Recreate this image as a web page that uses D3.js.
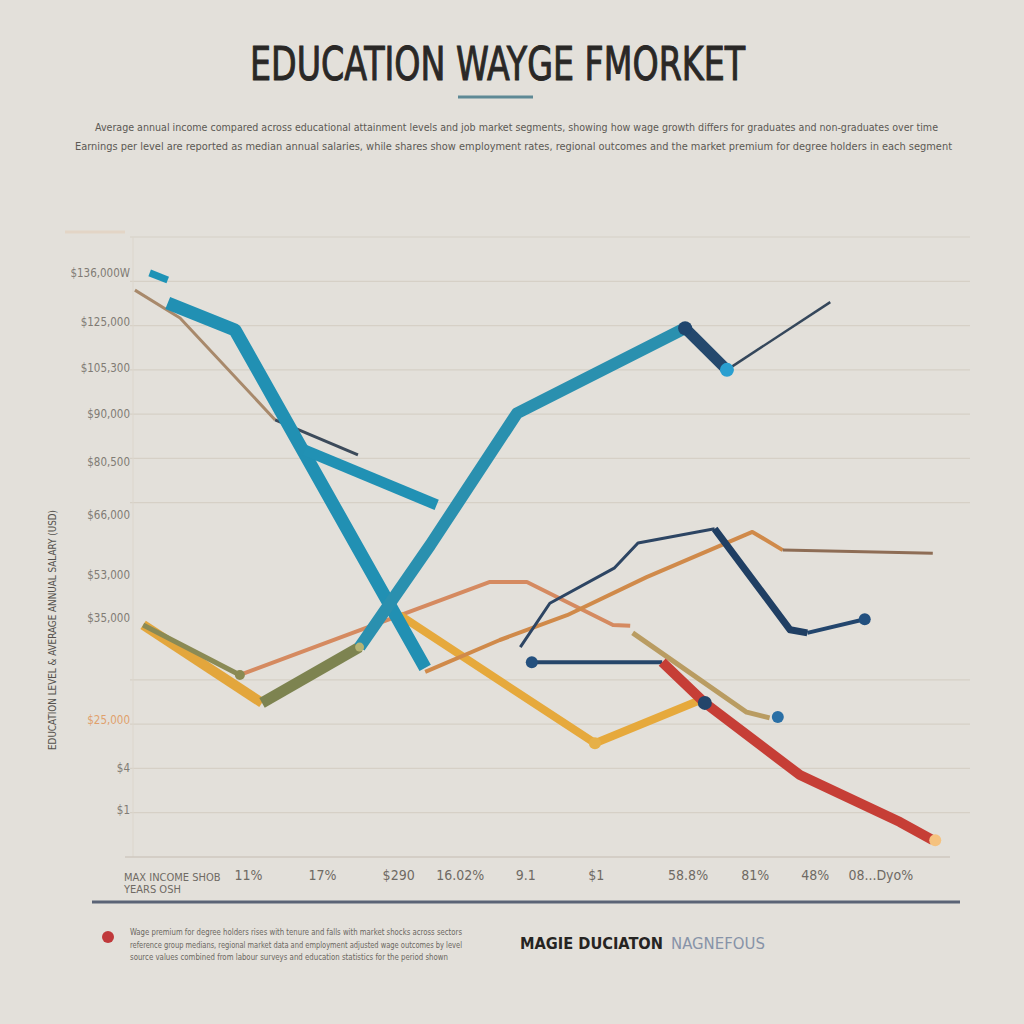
<!DOCTYPE html>
<html><head><meta charset="utf-8">
<script src="https://cdn.jsdelivr.net/npm/d3@7/dist/d3.min.js"></script>
<style>
html,body{margin:0;padding:0;background:#e3e0da;}
svg{display:block;}
.cond{font-family:"Liberation Sans Narrow","DejaVu Sans Condensed","Roboto Condensed","Liberation Sans",sans-serif;font-stretch:condensed;}
</style></head>
<body><svg id="c" width="1024" height="1024"></svg>
<script>
// ---------- DATA ----------
const title = "EDUCATION WAYGE FMORKET";
const subtitleLines = [
  "Average annual income compared across educational attainment levels and job market segments, showing how wage growth differs for graduates and non-graduates over time",
  "Earnings per level are reported as median annual salaries, while shares show employment rates, regional outcomes and the market premium for degree holders in each segment"
];
const yTickValues = [13.2, 12.08, 11.04, 10.0, 8.92, 7.72, 6.37, 5.4, 3.09, 2.01, 1.06];
const yTickLabels = ["$136,000W", "$125,000", "$105,300", "$90,000", "$80,500", "$66,000", "$53,000", "$35,000", "$25,000", "$4", "$1"];
const gridValues = [14, 13, 12, 11, 10, 9, 8, 4, 3, 2, 1];
const xTickValues = [14.4, 23.4, 32.7, 40.2, 48.2, 56.8, 68.0, 76.2, 83.5, 91.5];
const xTickLabels = ["11%", "17%", "$290", "16.02%", "9.1", "$1", "58.8%", "81%", "48%", "08...Dyo%"];
const xFirstLabel = ["MAX INCOME SHOB", "YEARS OSH"];
const yAxisTitle = "EDUCATION LEVEL & AVERAGE ANNUAL SALARY (USD)";
const legendText = [
  "Wage premium for degree holders rises with tenure and falls with market shocks across sectors",
  "reference group medians, regional market data and employment adjusted wage outcomes by level",
  "source values combined from labour surveys and education statistics for the period shown"
];
const legendTitle = "MAGIE DUCIATON";
const legendSub = "NAGNEFOUS";

// series: [x, y] in data units (x: 0-100 index, y: 0-14 salary scale)
const tealFragment = [[2.4, 13.19], [4.6, 13.03]];
const tealDown = [[4.6, 12.51], [12.8, 11.90], [36.0, 4.27]];
const tealBranch = [[21.3, 9.19], [37.4, 7.95]];
const brownThin = [[0.6, 12.80], [6.1, 12.17], [17.7, 9.87]];
const slateThin = [[17.7, 9.87], [27.8, 9.08]];
const risingOlive = [[16.1, 3.48], [28.0, 4.74]];
const risingTeal = [[28.0, 4.74], [36.6, 7.04], [47.2, 10.02], [67.7, 11.94]];
const risingNavy = [[67.7, 11.94], [72.8, 11.00]];
const navyThinTop = [[72.8, 11.00], [85.4, 12.53]];
const yellowLeft = [[1.6, 5.24], [16.1, 3.48]];
const oliveThin = [[1.6, 5.24], [13.4, 4.11]];
const orangeLine = [[13.4, 4.11], [27.4, 5.08], [43.9, 6.21], [48.4, 6.21], [58.9, 5.24], [61.0, 5.22]];
const yellowDown = [[32.9, 5.46], [56.7, 2.57], [69.5, 3.54]];
const orangeRise = [[36.0, 4.18], [45.1, 4.90], [53.3, 5.46], [63.0, 6.32], [75.9, 7.34], [79.6, 6.93]];
const brownTail = [[79.6, 6.93], [97.9, 6.86]];
const navyMid = [[47.6, 4.74], [51.2, 5.73], [59.1, 6.53], [61.95, 7.09], [71.3, 7.41]];
const navyDrop = [[71.3, 7.41], [80.5, 5.13], [82.6, 5.06]];
const navyEnd = [[82.6, 5.06], [89.6, 5.37]];
const navyFlat = [[49.0, 4.40], [64.9, 4.40]];
const redLine = [[64.9, 4.40], [70.1, 3.48], [81.7, 1.85], [93.9, 0.79], [97.9, 0.38]];
const tanLine = [[61.3, 5.06], [75.2, 3.27], [78.0, 3.14]];
const markers = [
  {p: [67.7, 11.94], c: "#1f456e", r: 7},
  {p: [72.8, 11.00], c: "#2a9fd0", r: 7},
  {p: [56.7, 2.57], c: "#e6b048", r: 6},
  {p: [49.0, 4.40], c: "#24507e", r: 6},
  {p: [89.6, 5.37], c: "#22507f", r: 6},
  {p: [70.1, 3.48], c: "#23456a", r: 7},
  {p: [79.0, 3.16], c: "#2a6fa5", r: 6},
  {p: [98.2, 0.38], c: "#f5c27f", r: 6},
  {p: [13.4, 4.11], c: "#8a8a52", r: 5},
  {p: [28.0, 4.74], c: "#b5b374", r: 4.5}
];

// ---------- DRAW ----------
const svg = d3.select("#c");
const x = d3.scaleLinear().domain([0, 100]).range([130, 950]);
const y = d3.scaleLinear().domain([0, 14]).range([857, 237]);
const line = d3.line().x(d => x(d[0])).y(d => y(d[1]));

// title
svg.append("text").attr("class", "cond").attr("x", 250).attr("y", 80)
  .attr("font-size", 47).attr("fill", "#2a2826").attr("stroke", "#2a2826").attr("stroke-width", 1)
  .attr("textLength", 495).attr("lengthAdjust", "spacingAndGlyphs").text(title);
svg.append("line").attr("x1", 458).attr("x2", 533).attr("y1", 97).attr("y2", 97)
  .attr("stroke", "#5e8995").attr("stroke-width", 3);
svg.selectAll(".sub").data(subtitleLines).join("text")
  .attr("class", "cond").attr("x", (d, i) => i ? 75 : 95).attr("y", (d, i) => 131 + i * 19)
  .attr("font-size", 10.5).attr("fill", "#5c5954")
  .attr("textLength", (d, i) => i ? 877 : 843).attr("lengthAdjust", "spacingAndGlyphs").text(d => d);

// grid
svg.append("g").selectAll("line").data(gridValues).join("line")
  .attr("x1", 130).attr("x2", 970).attr("y1", d => y(d)).attr("y2", d => y(d))
  .attr("stroke", "#d6d0c6").attr("stroke-width", 1.2);
svg.append("line").attr("x1", 133).attr("x2", 133).attr("y1", y(14)).attr("y2", y(0))
  .attr("stroke", "#dcd6cc").attr("stroke-width", 1);
svg.append("line").attr("x1", 65).attr("x2", 125).attr("y1", y(14) - 5).attr("y2", y(14) - 5)
  .attr("stroke", "#e3cfb9").attr("stroke-width", 3).attr("opacity", 0.6);
svg.append("line").attr("x1", 125).attr("x2", 950).attr("y1", y(0)).attr("y2", y(0))
  .attr("stroke", "#cfc9bf").attr("stroke-width", 1.5);

// y axis
const yAxis = d3.axisLeft(y).tickValues(yTickValues).tickSize(0).tickPadding(0)
  .tickFormat((d, i) => yTickLabels[i]);
const gy = svg.append("g").attr("transform", "translate(130,0)").call(yAxis);
gy.select(".domain").remove();
gy.selectAll("text").attr("class", "cond").attr("font-size", 11.5)
  .attr("fill", (d, i) => i === 8 ? "#e0a06c" : "#807b74");

svg.append("text").attr("class", "cond").attr("transform", "translate(56,750) rotate(-90)")
  .attr("font-size", 10).attr("fill", "#55524d").attr("textLength", 240)
  .attr("lengthAdjust", "spacingAndGlyphs").text(yAxisTitle);

// x axis labels
const xAxis = d3.axisBottom(x).tickValues(xTickValues).tickSize(0).tickPadding(0)
  .tickFormat((d, i) => xTickLabels[i]);
const gx = svg.append("g").attr("transform", "translate(0,870)").call(xAxis);
gx.select(".domain").remove();
gx.selectAll("text").attr("class", "cond").attr("font-size", 14).attr("fill", "#6f6a64");
svg.selectAll(".xf").data(xFirstLabel).join("text").attr("class", "cond")
  .attr("x", 124).attr("y", (d, i) => 881 + i * 12).attr("font-size", 11)
  .attr("fill", "#6f6a64").text(d => d);

svg.append("line").attr("x1", 92).attr("x2", 960).attr("y1", 902).attr("y2", 902)
  .attr("stroke", "#5b6476").attr("stroke-width", 3);

// series
function draw(data, color, width, opacity) {
  svg.append("path").datum(data).attr("d", line).attr("fill", "none")
    .attr("stroke", color).attr("stroke-width", width)
    .attr("stroke-linejoin", "round").attr("stroke-linecap", "butt")
    .attr("opacity", opacity || 1);
}
draw(yellowLeft, "#e3a63c", 10);
draw(oliveThin, "#8a8a55", 5);
draw(orangeLine, "#d58a60", 4);
draw(yellowDown, "#e6a93c", 8);
draw(orangeRise, "#d08a4a", 4);
draw(brownTail, "#8e6d55", 3);
draw(tanLine, "#b99c62", 5);
draw(navyMid, "#2d4563", 3);
draw(navyDrop, "#203f63", 7);
draw(navyEnd, "#23466d", 4);
draw(navyFlat, "#26466a", 4);
draw(redLine, "#c63e36", 10);
draw(brownThin, "#a8896b", 3);
draw(slateThin, "#3c4a5a", 3);
draw(tealDown, "#2190b3", 13);
draw(tealBranch, "#2191b4", 11);
draw(tealFragment, "#1e93b6", 7);
draw(risingOlive, "#7d8350", 11);
draw(risingTeal, "#2a90af", 12);
draw(risingNavy, "#24486d", 11);
draw(navyThinTop, "#35475b", 2.5);

svg.append("g").selectAll("circle").data(markers).join("circle")
  .attr("cx", d => x(d.p[0])).attr("cy", d => y(d.p[1])).attr("r", d => d.r)
  .attr("fill", d => d.c);

// legend
svg.append("circle").attr("cx", 108).attr("cy", 937).attr("r", 6).attr("fill", "#c0393b");
svg.selectAll(".lg").data(legendText).join("text").attr("class", "cond")
  .attr("x", 130).attr("y", (d, i) => 935 + i * 12.5).attr("font-size", 8.5)
  .attr("fill", "#6b6761").attr("textLength", (d, i) => i === 2 ? 318 : 332)
  .attr("lengthAdjust", "spacingAndGlyphs").text(d => d);
const t1 = svg.append("text").attr("class", "cond").attr("x", 520).attr("y", 949)
  .attr("font-size", 20).attr("font-weight", "bold").attr("fill", "#262422").text(legendTitle);
const w1 = t1.node().getComputedTextLength();
t1.attr("font-size", 20 * 143 / w1);
const t2 = svg.append("text").attr("class", "cond").attr("y", 949)
  .attr("font-size", 20).attr("fill", "#8793a8").text(legendSub);
const w2 = t2.node().getComputedTextLength();
t2.attr("font-size", 20 * 94 / w2).attr("x", 520 + 143 + 8);
</script></body></html>
